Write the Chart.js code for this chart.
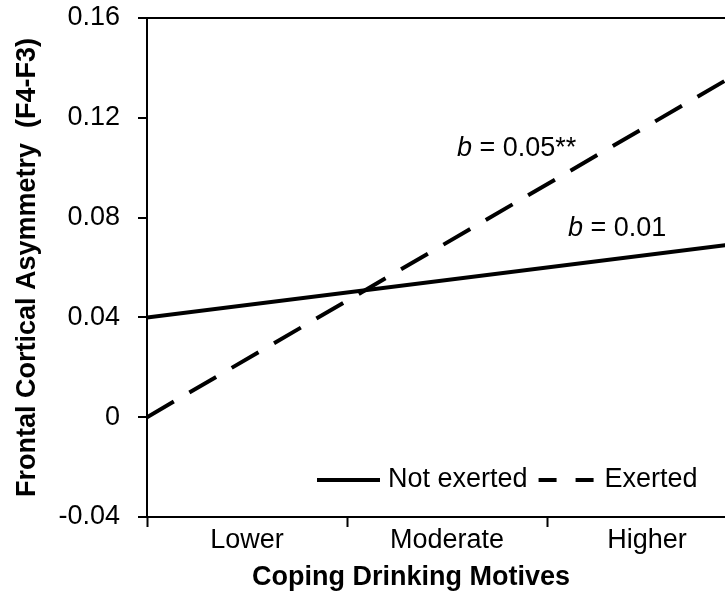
<!DOCTYPE html>
<html>
<head>
<meta charset="utf-8">
<script src="https://cdn.jsdelivr.net/npm/chart.js@4.4.0/dist/chart.umd.min.js"></script>
<style>
  html, body { margin: 0; padding: 0; background: #fff; }
  #wrap { width: 725px; height: 595px; overflow: hidden; position: relative; }
  #wrap canvas { display: block; }
</style>
</head>
<body>
<div id="wrap"><canvas id="chart" width="770" height="595"></canvas></div>
<script>
// Coping drinking motive levels shown on the horizontal axis
const categories = ['Lower', 'Moderate', 'Higher'];
// Each simple slope runs from the start of "Lower" to the end of "Higher"
const lineX = [0, 3];
const notExerted = [0.04, 0.07];
const exerted = [0.00, 0.14];
const yTicks = [-0.04, 0, 0.04, 0.08, 0.12, 0.16];
const seriesNames = ['Not exerted', 'Exerted'];
const slopeTexts = [' = 0.05**', ' = 0.01'];
const xTitle = 'Coping Drinking Motives';
const yTitle = 'Frontal Cortical Asymmetry  (F4-F3)';

const FONT = '"Liberation Sans", Arial, Helvetica, sans-serif';

function pts(xs, ys) { return xs.map((x, i) => ({ x: x, y: ys[i] })); }

// Legend drawn inside the plot, near the bottom right
const innerLegend = {
  id: 'innerLegend',
  afterDraw(chart) {
    const { ctx, chartArea: ca } = chart;
    const y = ca.bottom - 37;
    ctx.save();
    ctx.font = '27px ' + FONT;
    ctx.fillStyle = '#000';
    ctx.strokeStyle = '#000';
    ctx.lineWidth = 4;
    ctx.textBaseline = 'middle';
    ctx.textAlign = 'left';
    let x = ca.left + 170;
    ctx.beginPath();
    ctx.moveTo(x, y); ctx.lineTo(x + 63, y);
    ctx.stroke();
    x += 71;
    ctx.fillText(seriesNames[0], x, y);
    x += ctx.measureText(seriesNames[0]).width + 11;
    ctx.setLineDash([18, 19]);
    ctx.beginPath();
    ctx.moveTo(x, y); ctx.lineTo(x + 57, y);
    ctx.stroke();
    ctx.setLineDash([]);
    x += 66;
    ctx.fillText(seriesNames[1], x, y);
    ctx.restore();
  }
};

// Horizontal axis title, set a little left of the plot centre
const xAxisTitle = {
  id: 'xAxisTitle',
  afterDraw(chart) {
    const { ctx, chartArea: ca } = chart;
    ctx.save();
    ctx.font = 'bold 27px ' + FONT;
    ctx.fillStyle = '#000';
    ctx.textAlign = 'center';
    ctx.textBaseline = 'middle';
    ctx.fillText(xTitle, ca.left + 264, ca.bottom + 61);
    ctx.restore();
  }
};

// Simple-slope labels placed in data coordinates
const slopeLabels = {
  id: 'slopeLabels',
  afterDatasetsDraw(chart) {
    const { ctx, scales } = chart;
    const spots = [[1.55, 0.1078], [2.105, 0.0756]];
    ctx.save();
    ctx.fillStyle = '#000';
    ctx.textBaseline = 'middle';
    ctx.textAlign = 'left';
    slopeTexts.forEach((t, i) => {
      const px = scales.xl.getPixelForValue(spots[i][0]);
      const py = scales.y.getPixelForValue(spots[i][1]);
      ctx.font = 'italic 27px ' + FONT;
      ctx.fillText('b', px, py);
      const w = ctx.measureText('b').width;
      ctx.font = '27px ' + FONT;
      ctx.fillText(t, px + w, py);
    });
    ctx.restore();
  }
};

new Chart(document.getElementById('chart'), {
  type: 'line',
  data: {
    labels: categories,
    datasets: [
      {
        label: seriesNames[0],
        data: pts(lineX, notExerted),
        xAxisID: 'xl',
        borderColor: '#000',
        borderWidth: 4,
        pointRadius: 0,
        tension: 0
      },
      {
        label: seriesNames[1],
        data: pts(lineX, exerted),
        xAxisID: 'xl',
        borderColor: '#000',
        borderWidth: 4,
        borderDash: [31, 18],
        pointRadius: 0,
        tension: 0
      }
    ]
  },
  options: {
    responsive: false,
    devicePixelRatio: 1,
    animation: false,
    events: [],
    layout: { padding: { left: 0, right: 23, top: 18, bottom: 0 } },
    plugins: {
      legend: { display: false },
      tooltip: { enabled: false }
    },
    scales: {
      x: {
        type: 'category',
        position: 'bottom',
        offset: true,
        grid: {
          offset: true,
          drawOnChartArea: false,
          drawTicks: true,
          tickLength: 10,
          tickWidth: 2,
          tickColor: '#000'
        },
        border: { display: true, color: '#000', width: 2 },
        ticks: {
          color: '#000',
          padding: 0,
          maxRotation: 0,
          font: { family: FONT, size: 27, lineHeight: 1 }
        },
        afterFit(scale) {
          scale.height = 78;
          scale.paddingLeft = 0;
          scale.paddingRight = 0;
        }
      },
      xl: {
        type: 'linear',
        position: 'bottom',
        display: false,
        min: lineX[0],
        max: lineX[1]
      },
      y: {
        type: 'linear',
        position: 'left',
        min: yTicks[0],
        max: yTicks[yTicks.length - 1],
        afterBuildTicks(scale) { scale.ticks = yTicks.map(v => ({ value: v })); },
        grid: {
          drawOnChartArea: true,
          color: ctx => (ctx.tick && Math.abs(ctx.tick.value - yTicks[yTicks.length - 1]) < 1e-9) ? '#000' : 'rgba(0,0,0,0)',
          lineWidth: 2,
          tickLength: 9,
          tickWidth: 2,
          tickColor: '#000'
        },
        border: { display: true, color: '#000', width: 2 },
        ticks: {
          color: '#000',
          padding: 18,
          font: { family: FONT, size: 27 },
          callback: v => (Math.abs(v) < 1e-9 ? '0' : Number(v).toFixed(2))
        },
        title: {
          display: true,
          text: yTitle,
          color: '#000',
          padding: { top: 11, bottom: 0 },
          font: { family: FONT, size: 27, weight: 'bold' }
        },
        afterFit(scale) {
          scale.width = 147;
          scale.paddingTop = 0;
          scale.paddingBottom = 0;
        }
      }
    }
  },
  plugins: [innerLegend, xAxisTitle, slopeLabels]
});
</script>
</body>
</html>
